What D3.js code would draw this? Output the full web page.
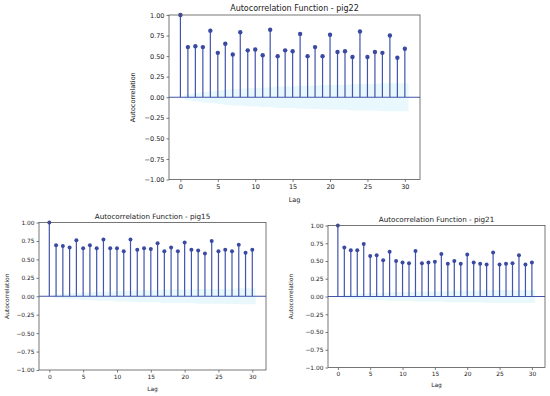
<!DOCTYPE html>
<html>
<head>
<meta charset="utf-8">
<script src="https://cdn.jsdelivr.net/npm/d3@7"></script>
<style>
body{margin:0;background:#fff;}
svg{display:block;font-family:"DejaVu Sans",sans-serif;}
</style>
</head>
<body>
<svg id="chart" width="550" height="396"></svg>
<script>
// lags 0..30
var lags=d3.range(0,31);
var xTicks=[0,5,10,15,20,25,30];
var yTicks=[-1,-0.75,-0.5,-0.25,0,0.25,0.5,0.75,1];

var pig22=[1.00,0.61,0.62,0.61,0.81,0.54,0.65,0.52,0.79,0.57,0.58,0.51,0.82,0.50,0.57,0.56,0.77,0.50,0.61,0.50,0.76,0.55,0.56,0.49,0.80,0.49,0.55,0.54,0.75,0.48,0.59];
var pig15=[1.00,0.69,0.68,0.66,0.76,0.65,0.69,0.65,0.77,0.65,0.65,0.61,0.77,0.63,0.65,0.64,0.72,0.61,0.66,0.61,0.73,0.63,0.62,0.58,0.75,0.61,0.63,0.61,0.70,0.59,0.63];
var pig21=[1.00,0.69,0.65,0.65,0.74,0.57,0.58,0.51,0.63,0.50,0.48,0.47,0.64,0.47,0.48,0.49,0.60,0.46,0.50,0.46,0.59,0.48,0.46,0.45,0.62,0.45,0.46,0.47,0.58,0.45,0.48];

// confidence band half widths, lags 1..30 (read roughly)
var band22=[0.03,0.05,0.06,0.07,0.08,0.09,0.10,0.10,0.11,0.11,0.12,0.12,0.13,0.13,0.13,0.14,0.14,0.14,0.15,0.15,0.15,0.15,0.16,0.16,0.16,0.16,0.17,0.17,0.17,0.17];
var band15=[0.02,0.03,0.04,0.04,0.05,0.05,0.06,0.06,0.06,0.07,0.07,0.07,0.08,0.08,0.08,0.08,0.09,0.09,0.09,0.09,0.09,0.10,0.10,0.10,0.10,0.10,0.10,0.11,0.11,0.11];
var band21=[0.02,0.03,0.04,0.04,0.05,0.05,0.05,0.06,0.06,0.06,0.06,0.07,0.07,0.07,0.07,0.07,0.08,0.08,0.08,0.08,0.08,0.08,0.09,0.09,0.09,0.09,0.09,0.09,0.09,0.09];

var svg=d3.select("#chart");
var stemColour="#4254ab", dotColour="#3a4aa2", bandColour="#e9f8fc";

function drawAcf(name,values,band,box,fs)
{
	var g=svg.append("g").attr("class","acf-"+name);
	var x=d3.scaleLinear().domain([-1.525,32.025]).range([box.left,box.right]);
	var y=d3.scaleLinear().domain([-1,1]).range([box.bottom,box.top]);

	//confidence band
	var bandData=band.map(function(b,i){
		var l=i+1;
		if(i==0) l-=0.5;
		if(i==band.length-1) l+=0.5;
		return {lag:l,hw:b};
	});
	g.append("path").datum(bandData)
		.attr("d",d3.area().x(function(d){return x(d.lag);}).y0(function(d){return y(-d.hw);}).y1(function(d){return y(d.hw);}))
		.attr("fill",bandColour);

	// stems
	g.selectAll(".stem").data(lags).enter().append("line")
		.attr("x1",function(d){return x(d);}).attr("x2",function(d){return x(d);})
		.attr("y1",y(0)).attr("y2",function(d){return y(values[d]);})
		.attr("stroke",stemColour).attr("stroke-width",1.2);
	g.append("line").attr("x1",box.left).attr("x2",box.right).attr("y1",y(0)).attr("y2",y(0))
		.attr("stroke",stemColour).attr("stroke-width",1.2);
	g.selectAll(".dot").data(lags).enter().append("circle")
		.attr("cx",function(d){return x(d);}).attr("cy",function(d){return y(values[d]);})
		.attr("r",box.r).attr("fill",dotColour);

	// axes
	var xa=g.append("g").attr("transform","translate(0,"+box.bottom+")")
		.call(d3.axisBottom(x).tickValues(xTicks).tickSize(2.5).tickPadding(2).tickFormat(d3.format("d")));
	var ya=g.append("g").attr("transform","translate("+box.left+",0)")
		.call(d3.axisLeft(y).tickValues(yTicks).tickSize(2.5).tickPadding(2).tickFormat(function(d){return d3.format(".2f")(d).replace("-","\u2212");}));
	[xa,ya].forEach(function(a){
		a.select(".domain").remove();
		a.selectAll("text").attr("font-size",fs.tick).attr("fill","#222").attr("font-family","DejaVu Sans");
		a.selectAll("line").attr("stroke","#444").attr("stroke-width",0.7);
	});
	g.append("rect").attr("x",box.left).attr("y",box.top)
		.attr("width",box.right-box.left).attr("height",box.bottom-box.top)
		.attr("fill","none").attr("stroke","#555").attr("stroke-width",0.8);

	g.append("text").attr("x",(box.left+box.right)/2).attr("y",box.top-4)
		.attr("text-anchor","middle").attr("font-size",fs.title).attr("fill","#222")
		.text("Autocorrelation Function - "+name);
	g.append("text").attr("x",(box.left+box.right)/2).attr("y",box.bottom+fs.lagDy)
		.attr("text-anchor","middle").attr("font-size",fs.tick).attr("fill","#222").text("Lag");
	g.append("text").attr("transform","translate("+(box.left-fs.ylabDx)+","+y(0)+") rotate(-90)")
		.attr("text-anchor","middle").attr("font-size",fs.tick).attr("fill","#222").text("Autocorrelation");
}

drawAcf("pig22",pig22,band22,{left:169,right:420,top:15,bottom:179.5,r:2.2},{title:8,tick:6.5,lagDy:22,ylabDx:34});
drawAcf("pig15",pig15,band15,{left:39,right:266,top:222.5,bottom:370,r:2},{title:7.2,tick:5.9,lagDy:21,ylabDx:30});
drawAcf("pig21",pig21,band21,{left:328,right:545,top:225.5,bottom:367.5,r:2},{title:7.2,tick:5.9,lagDy:19.5,ylabDx:35});
</script>
</body>
</html>
